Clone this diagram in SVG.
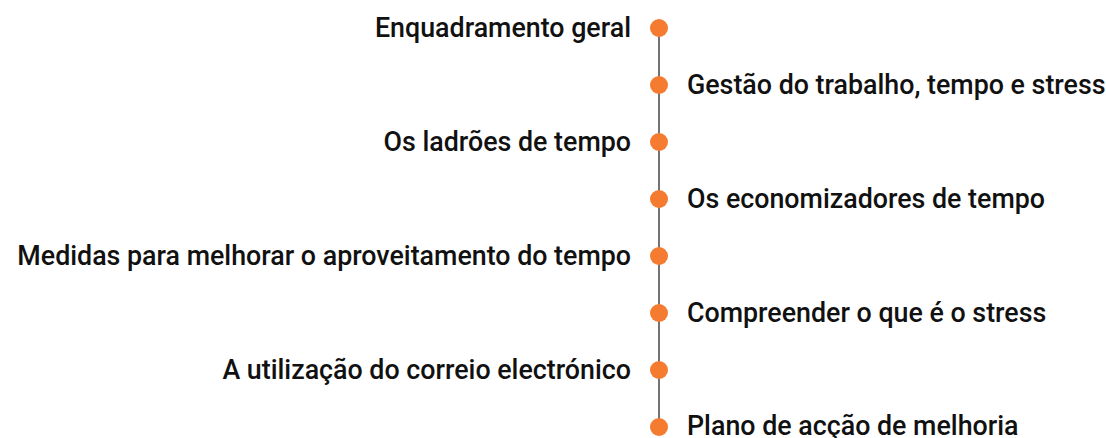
<svg xmlns="http://www.w3.org/2000/svg" width="1106" height="438" viewBox="0 0 1106 438">
<style>
.t{font-family:Roboto,"Noto Sans",sans-serif;font-weight:500;font-size:26.8px;fill:#111}
.l{text-anchor:end}
.d{fill:#f47b2f}
.c{stroke:#444;stroke-width:1.5;fill:none}
</style>
<rect width="1106" height="438" fill="#fff"/>
<g id="connectors"><line class="c" x1="659" y1="28" x2="659" y2="427"/></g>
<g id="n1"><circle class="d" cx="659" cy="28" r="9"/><text class="t l" x="631" y="37">Enquadramento geral</text></g>
<g id="n2"><circle class="d" cx="659" cy="85" r="9"/><text class="t" x="687" y="94">Gestão do trabalho, tempo e stress</text></g>
<g id="n3"><circle class="d" cx="659" cy="142" r="9"/><text class="t l" x="631" y="151">Os ladrões de tempo</text></g>
<g id="n4"><circle class="d" cx="659" cy="199" r="9"/><text class="t" x="687" y="208">Os economizadores de tempo</text></g>
<g id="n5"><circle class="d" cx="659" cy="256" r="9"/><text class="t l" x="631" y="265">Medidas para melhorar o aproveitamento do tempo</text></g>
<g id="n6"><circle class="d" cx="659" cy="313" r="9"/><text class="t" x="687" y="322">Compreender o que é o stress</text></g>
<g id="n7"><circle class="d" cx="659" cy="370" r="9"/><text class="t l" x="631" y="379">A utilização do correio electrónico</text></g>
<g id="n8"><circle class="d" cx="659" cy="427" r="9"/><text class="t" x="687" y="435">Plano de acção de melhoria</text></g>
</svg>
